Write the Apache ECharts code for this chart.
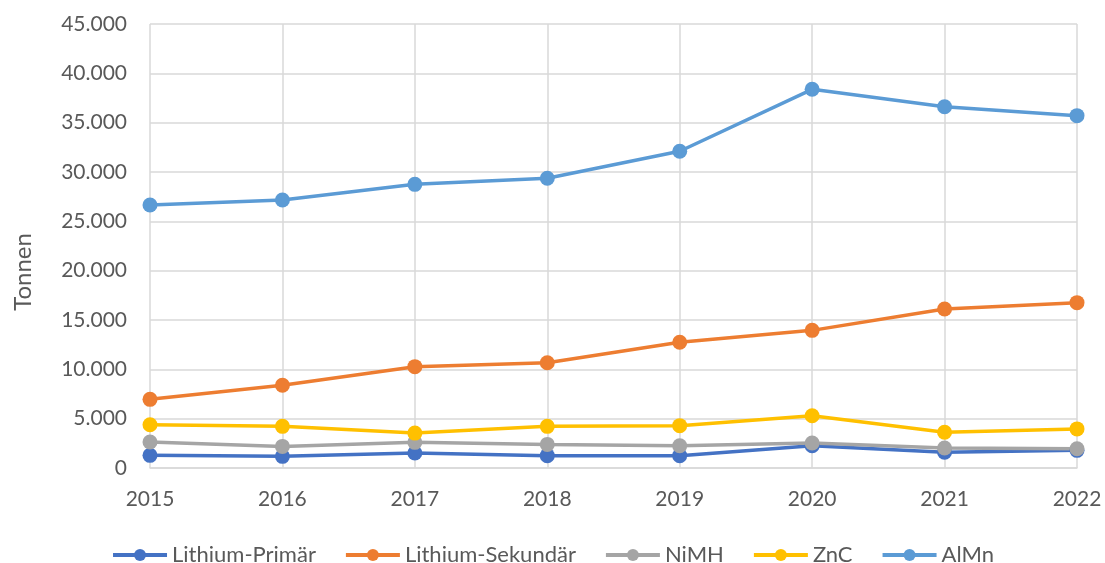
<!DOCTYPE html>
<html lang="de">
<head>
    <meta charset="UTF-8">
    <title>Batterien - Tonnen</title>
    <script src="https://cdn.jsdelivr.net/npm/echarts@6/dist/echarts.min.js"></script>
    <style>
        html, body { margin: 0; padding: 0; background: #fff; }
        #chart { width: 1105px; height: 563px; }
    </style>
</head>
<body>
<div id="chart"></div>
<script>
    // Jahre (x-Achse)
    const years = ['2015', '2016', '2017', '2018', '2019', '2020', '2021', '2022'];

    // Werte in Tonnen
    const lithiumPrimaer = [1280, 1180, 1520, 1250, 1250, 2260, 1590, 1790];
    const lithiumSekundaer = [6960, 8380, 10270, 10670, 12740, 13950, 16110, 16760];
    const nimh = [2630, 2190, 2600, 2390, 2260, 2530, 2020, 1950];
    const znc = [4390, 4220, 3540, 4220, 4290, 5300, 3620, 3960];
    const almn = [26660, 27160, 28750, 29360, 32100, 38380, 36620, 35710];

    const seriesNames = ['Lithium-Primär', 'Lithium-Sekundär', 'NiMH', 'ZnC', 'AlMn'];
    const seriesData = [lithiumPrimaer, lithiumSekundaer, nimh, znc, almn];
    const colors = ['#4472C4', '#ED7D31', '#A5A5A5', '#FFC000', '#5B9BD5'];

    const fontFamily = 'Lato, "Open Sans", sans-serif';
    const textColor = '#595959';

    // Tausenderpunkt wie im Original
    function formatDe(v) {
        return String(v).replace(/\B(?=(\d{3})+(?!\d))/g, '.');
    }

    let myChart = echarts.init(document.getElementById('chart'));
    let myOption = {
        animation: false,
        color: colors,
        textStyle: { fontFamily: fontFamily },
        grid: { left: 150, right: 28, top: 24, bottom: 95 },
        legend: {
            top: 539,
            left: 'center',
            itemWidth: 54,
            itemHeight: 15,
            itemGap: 28,
            lineStyle: { width: 4 },
            textStyle: { fontSize: 22, color: textColor, fontFamily: fontFamily },
            data: seriesNames
        },
        xAxis: {
            type: 'category',
            data: years,
            boundaryGap: false,
            axisLine: { lineStyle: { color: '#D9D9D9', width: 1.5 } },
            axisTick: { show: false },
            axisLabel: { fontSize: 21, color: textColor, margin: 21 },
            splitLine: { show: true, lineStyle: { color: '#D9D9D9', width: 1.5 } }
        },
        yAxis: {
            type: 'value',
            min: 0,
            max: 45000,
            interval: 5000,
            name: 'Tonnen',
            nameLocation: 'middle',
            nameGap: 115,
            // etwas unter die Mitte geschoben wie im Original
            nameTextStyle: { fontSize: 24, color: textColor, padding: [0, 52, 0, 0] },
            axisLine: { show: false },
            axisTick: { show: false },
            axisLabel: { fontSize: 21, color: textColor, margin: 23, formatter: formatDe },
            splitLine: { lineStyle: { color: '#D9D9D9', width: 1.5 } }
        },
        series: seriesNames.map(function (name, i) {
            return {
                name: name,
                type: 'line',
                data: seriesData[i],
                symbol: 'circle',
                symbolSize: 15,
                lineStyle: { width: 3.5, color: colors[i] },
                itemStyle: { color: colors[i] }
            };
        })
    };
    myChart.setOption(myOption);
</script>
</body>
</html>
